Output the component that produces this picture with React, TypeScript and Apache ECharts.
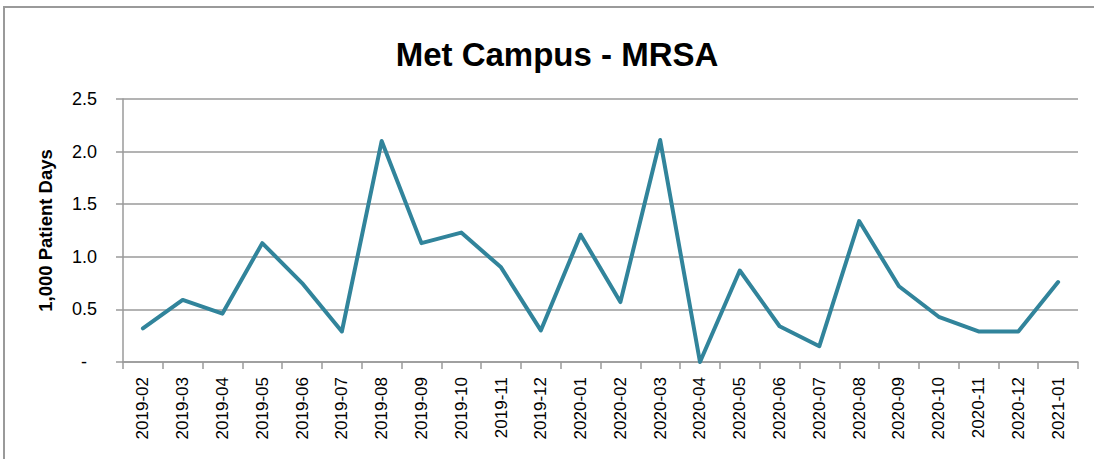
import React, { useEffect, useRef } from "react";
import * as echarts from "echarts";

const title = "Met Campus - MRSA";
const yAxisName = "1,000 Patient Days";
const months = [
  "2019-02", "2019-03", "2019-04", "2019-05", "2019-06", "2019-07",
  "2019-08", "2019-09", "2019-10", "2019-11", "2019-12", "2020-01",
  "2020-02", "2020-03", "2020-04", "2020-05", "2020-06", "2020-07",
  "2020-08", "2020-09", "2020-10", "2020-11", "2020-12", "2021-01",
];
const rates = [
  0.32, 0.59, 0.46, 1.13, 0.75, 0.29,
  2.10, 1.13, 1.23, 0.90, 0.30, 1.21,
  0.57, 2.11, 0.0, 0.87, 0.34, 0.15,
  1.34, 0.72, 0.43, 0.29, 0.29, 0.76,
];
const yMin = 0;
const yMax = 2.5;
const yStep = 0.5;

export default function App() {
  const ref = useRef<HTMLDivElement>(null);
  useEffect(() => {
    if (!ref.current) return;
    const chart = echarts.init(ref.current, null, { renderer: "svg" });
    const gray = "#9a9a9a";
    chart.setOption({
      animation: false,
      backgroundColor: "#ffffff",
      title: {
        text: title,
        left: 552,
        top: 33,
        textAlign: "center",
        textStyle: {
          fontFamily: "Liberation Sans",
          fontWeight: "bold",
          fontSize: 33,
          color: "#000",
        },
      },
      graphic: [
        {
          type: "polyline",
          shape: { points: [[4, 470], [4, 7], [1100, 7]] },
          style: { stroke: "#9a9a9a", lineWidth: 2, fill: "none" },
          silent: true,
        },
      ],
      grid: { left: 123, right: 16, top: 99, bottom: 97, containLabel: false },
      xAxis: {
        type: "category",
        data: months,
        boundaryGap: true,
        axisLine: { show: true, lineStyle: { color: gray, width: 1.5 } },
        axisTick: { show: true, length: 7, alignWithLabel: false, lineStyle: { color: gray, width: 1.5 } },
        axisLabel: {
          rotate: 90,
          margin: 15,
          interval: 0,
          fontFamily: "Liberation Sans",
          fontSize: 17,
          color: "#000",
        },
        splitLine: { show: false },
      },
      yAxis: {
        type: "value",
        min: yMin,
        max: yMax,
        interval: yStep,
        name: yAxisName,
        nameLocation: "middle",
        nameRotate: 90,
        nameGap: 68,
        nameTextStyle: {
          fontFamily: "Liberation Sans",
          fontWeight: "bold",
          fontSize: 18.5,
          color: "#000",
        },
        axisLine: { show: true, lineStyle: { color: gray, width: 1.5 } },
        axisTick: { show: true, length: 7, inside: false, lineStyle: { color: gray, width: 1.5 } },
        axisLabel: {
          margin: 26,
          fontFamily: "Liberation Sans",
          fontSize: 18,
          color: "#000",
          formatter: (v: number) => (v === 0 ? "-  " : v.toFixed(1)),
        },
        splitLine: { show: true, lineStyle: { color: gray, width: 1.5 } },
      },
      series: [
        {
          type: "line",
          data: rates,
          symbol: "none",
          lineStyle: { color: "#31849B", width: 4, join: "round", cap: "round" },
          itemStyle: { color: "#31849B" },
        },
      ],
    });
    return () => chart.dispose();
  }, []);
  return (
    <div
      ref={ref}
      style={{ position: "fixed", left: 0, top: 0, width: 1094, height: 459, background: "#fff" }}
    />
  );
}
